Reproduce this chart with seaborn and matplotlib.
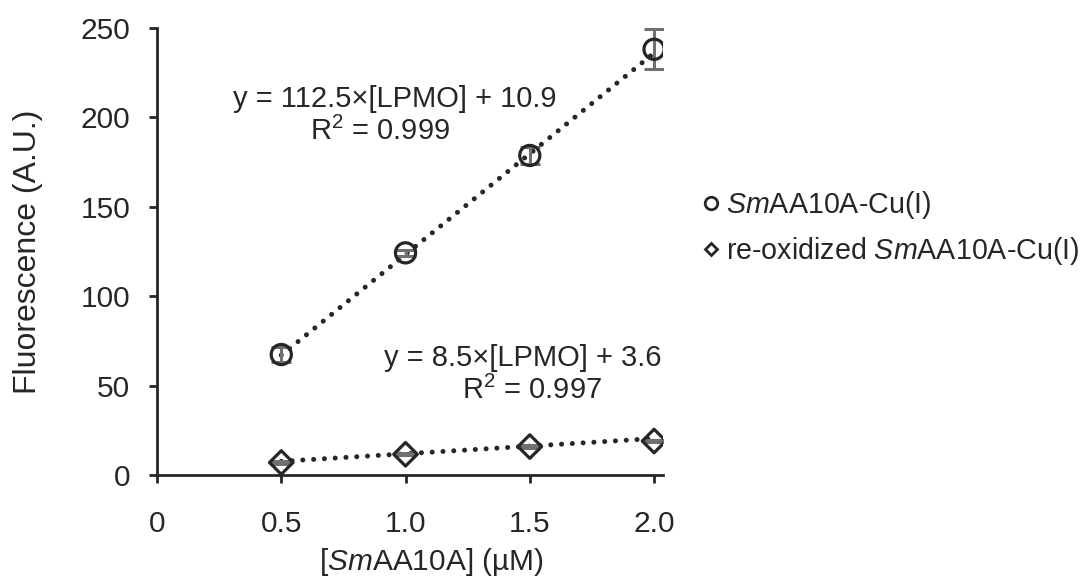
import numpy as np
import pandas as pd
import matplotlib
matplotlib.use("Agg")
import matplotlib.pyplot as plt
from matplotlib.lines import Line2D
import seaborn as sns

# ---- data ----
conc = [0.5, 1.0, 1.5, 2.0]
cu1_mean = [67.5, 124.3, 178.7, 238.0]
cu1_err = [4.0, 1.5, 5.0, 11.2]
reox_mean = [7.2, 11.8, 16.1, 19.2]
reox_err = [0.6, 0.6, 0.8, 0.5]
fit_cu1 = (112.5, 10.9)
fit_reox = (8.5, 3.6)
xticks = [0, 0.5, 1.0, 1.5, 2.0]
xticklabels = ["0", "0.5", "1.0", "1.5", "2.0"]
yticks = [0, 50, 100, 150, 200, 250]
eq_cu1 = ["y = 112.5×[LPMO] + 10.9", "R$^{2}$ = 0.999"]
eq_reox = ["y = 8.5×[LPMO] + 3.6", "R$^{2}$ = 0.997"]
legend_labels = [r"$\mathit{Sm}$AA10A-Cu(I)", r"re-oxidized $\mathit{Sm}$AA10A-Cu(I)"]

sns.set_theme(style="ticks")
plt.rcParams["font.family"] = ["Liberation Sans", "DejaVu Sans"]
plt.rcParams["mathtext.fontset"] = "custom"
plt.rcParams["mathtext.it"] = "Liberation Sans:italic"
plt.rcParams["mathtext.rm"] = "Liberation Sans"
plt.rcParams["mathtext.default"] = "regular"

W, H = 1092, 581
fig = plt.figure(figsize=(W/100, H/100), dpi=100)
fig.patch.set_facecolor("white")
ax_l, ax_r, ax_t, ax_b = 157, 663, 27.8, 475.4
ax = fig.add_axes([ax_l/W, 1-ax_b/H, (ax_r-ax_l)/W, (ax_b-ax_t)/H])
ax.set_facecolor("white")

col = "#262626"
grey = "#707070"

# fit lines
fx = np.array([conc[0], conc[-1]])
df_fit = pd.DataFrame({
    "x": np.concatenate([fx, fx]),
    "y": np.concatenate([fit_cu1[0]*fx + fit_cu1[1], fit_reox[0]*fx + fit_reox[1]]),
    "s": ["a", "a", "b", "b"],
})
for s in ["a", "b"]:
    sns.lineplot(data=df_fit[df_fit.s == s], x="x", y="y", ax=ax, color=col,
                 linewidth=3.6, linestyle=(0, (0.01, 2.15)), legend=False, zorder=2)
for line in ax.lines:
    line.set_dash_capstyle("round")

# error bars
ax.errorbar(conc, cu1_mean, yerr=cu1_err, fmt="none", ecolor=grey, elinewidth=2.2, capsize=7, capthick=2.2, zorder=3)
ax.errorbar(conc, reox_mean, yerr=reox_err, fmt="none", ecolor=grey, elinewidth=2.2, capsize=7, capthick=2.2, zorder=3)

# markers
sns.scatterplot(x=conc, y=cu1_mean, ax=ax, marker="o", s=14.5**2, facecolor="none",
                edgecolor=col, linewidth=2.3, zorder=4)
sns.scatterplot(x=conc, y=reox_mean, ax=ax, marker="D", s=12**2, facecolor="none",
                edgecolor=col, linewidth=2.3, zorder=4)

ax.set_xlim(0, 2.036)
ax.set_ylim(0, 250)
ax.set_xticks(xticks)
ax.set_xticklabels(xticklabels)
ax.set_yticks(yticks)
ax.tick_params(axis="both", labelsize=21.5, colors=col, width=2, length=5.8, direction="out")
ax.tick_params(axis="x", pad=19)
ax.tick_params(axis="y", pad=13.5)
for sp in ["top", "right"]:
    ax.spines[sp].set_visible(False)
for sp in ["left", "bottom"]:
    ax.spines[sp].set_linewidth(2)
    ax.spines[sp].set_color(col)

ax.set_ylabel("Fluorescence (A.U.)", fontsize=23, color=col, va="center")
ax.yaxis.set_label_coords((28-ax_l)/(ax_r-ax_l), (ax_b-251.5)/(ax_b-ax_t))
ax.set_xlabel(r"[$\mathit{Sm}$AA10A] (µM)", fontsize=21.5, color=col, va="center")
ax.xaxis.set_label_coords((431.5-ax_l)/(ax_r-ax_l), (ax_b-562)/(ax_b-ax_t))

# equations (data coordinates)
ax.text(0.958, 205.9, eq_cu1[0], fontsize=21, color=col, ha="center", va="baseline")
ax.text(0.897, 187.3, eq_cu1[1], fontsize=21, color=col, ha="center", va="baseline")
ax.text(1.473, 61.0, eq_reox[0], fontsize=21, color=col, ha="center", va="baseline")
ax.text(1.509, 42.5, eq_reox[1], fontsize=21, color=col, ha="center", va="baseline")

# legend
handles = [
    Line2D([], [], marker="o", linestyle="none", markersize=9, markerfacecolor="none", markeredgecolor=col, markeredgewidth=2),
    Line2D([], [], marker="D", linestyle="none", markersize=6.5, markerfacecolor="none", markeredgecolor=col, markeredgewidth=2),
]
fig.legend(handles, legend_labels, loc="upper left", bbox_to_anchor=(700/W, 1-189/H), frameon=False,
           fontsize=20.6, handletextpad=0.12, handlelength=0.8, labelspacing=0.48, labelcolor=col,
           borderaxespad=0, borderpad=0)

fig.savefig("out.png", dpi=100, facecolor="white")
